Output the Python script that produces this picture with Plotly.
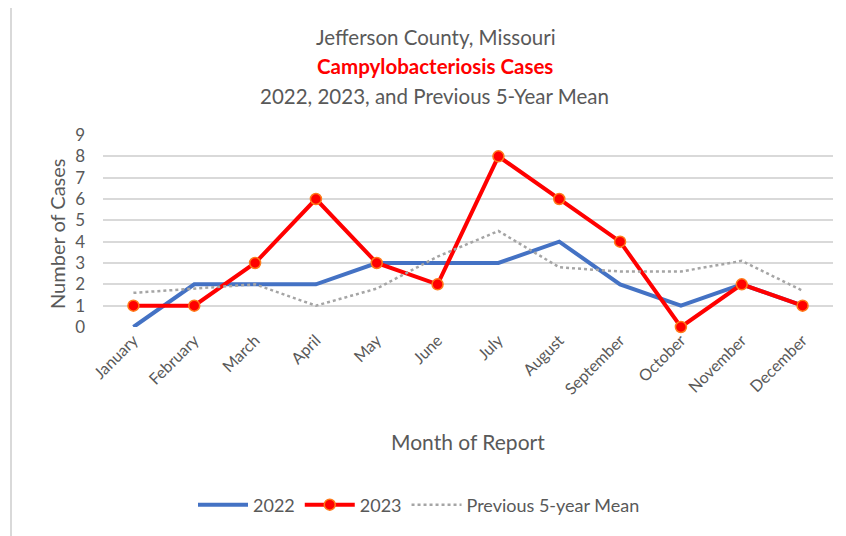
import plotly.graph_objects as go

months = ["January", "February", "March", "April", "May", "June", "July",
          "August", "September", "October", "November", "December"]
cases_2022 = [0, 2, 2, 2, 3, 3, 3, 4, 2, 1, 2, 1]
cases_2023 = [1, 1, 3, 6, 3, 2, 8, 6, 4, 0, 2, 1]
mean_5yr = [1.6, 1.8, 2.0, 1.0, 1.8, 3.3, 4.5, 2.8, 2.6, 2.6, 3.1, 1.7]
y_ticks = list(range(0, 10))

FONT = "Lato"
GRAY = "#595959"

fig = go.Figure()
fig.add_trace(go.Scatter(x=months, y=cases_2022, name="2022", mode="lines",
                         line=dict(color="#4472C4", width=4), cliponaxis=False))
fig.add_trace(go.Scatter(x=months, y=cases_2023, name="2023", mode="lines+markers",
                         line=dict(color="#FF0000", width=4),
                         marker=dict(color="#FF0000", size=11,
                                     line=dict(color="#FF7A1A", width=1.5)),
                         cliponaxis=False))
fig.add_trace(go.Scatter(x=months, y=mean_5yr, name="Previous 5-year Mean", mode="lines",
                         line=dict(color="#A5A5A5", width=2.5, dash="dot"), cliponaxis=False))

# page body has an 8px margin: screen px -> paper coords of the plot area
def px_x(px):
    return (px - 103) / 730

def px_y(py):
    return (327 - py) / 192

annotations = [
    dict(text="Jefferson County, Missouri", x=px_x(436), y=px_y(37),
         font=dict(size=20.5, color=GRAY, family=FONT)),
    dict(text="<b>Campylobacteriosis Cases</b>", x=px_x(435), y=px_y(66),
         font=dict(size=20.5, color="#FF0000", family=FONT)),
    dict(text="2022, 2023, and Previous 5-Year Mean", x=px_x(434), y=px_y(96),
         font=dict(size=20.5, color=GRAY, family=FONT)),
    dict(text="Number of Cases", x=px_x(57), y=px_y(234), textangle=-90,
         font=dict(size=20, color=GRAY, family=FONT)),
    dict(text="Month of Report", x=px_x(468), y=px_y(441),
         font=dict(size=21, color=GRAY, family=FONT)),
]
for a in annotations:
    a.update(xref="paper", yref="paper", showarrow=False, xanchor="center", yanchor="middle")

fig.update_layout(
    width=838, height=528,
    margin=dict(l=95, r=13, t=127, b=209),
    paper_bgcolor="white", plot_bgcolor="white",
    font=dict(family=FONT, color=GRAY, size=15),
    annotations=annotations,
    showlegend=True,
    legend=dict(orientation="h", x=px_x(419), xanchor="center", y=px_y(505), yanchor="middle",
                font=dict(size=18, color=GRAY, family=FONT), itemwidth=50,
                traceorder="normal"),
    shapes=[dict(type="rect", xref="paper", yref="paper",
                 x0=px_x(11), x1=px_x(870), y0=px_y(580), y1=px_y(4.5),
                 line=dict(color="#D9D9D9", width=2), layer="below")],
)
fig.update_xaxes(range=[-0.5, 11.5], tickangle=-45, showgrid=False, showline=False, ticks="",
                 tickfont=dict(size=16, color=GRAY, family=FONT))
fig.update_yaxes(range=[0, 9], tickvals=y_ticks, showgrid=True, gridcolor="#D9D9D9",
                 gridwidth=1.5, zeroline=False, showline=False, ticks="",
                 ticklabelstandoff=17,
                 tickfont=dict(size=17, color=GRAY, family=FONT))

fig.write_html("out.html")
